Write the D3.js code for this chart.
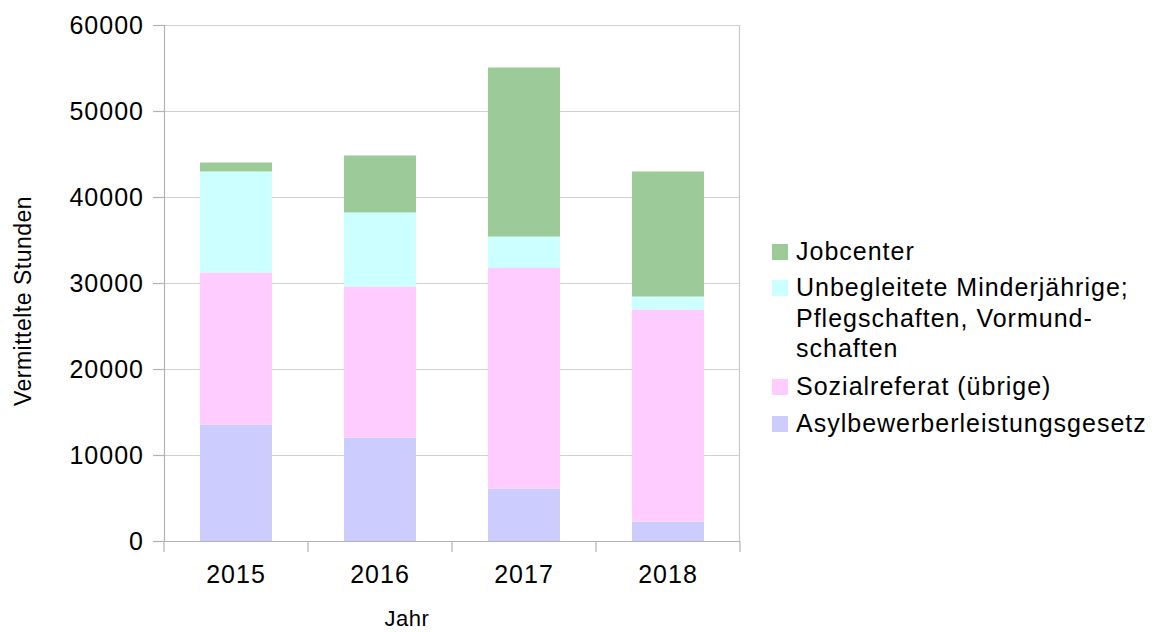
<!DOCTYPE html>
<html>
<head>
<meta charset="utf-8">
<script src="https://cdn.jsdelivr.net/npm/d3@7"></script>
<style>
  body { margin: 0; background: #fff; }
  text { font-family: "Liberation Sans", Arial, sans-serif; fill: #000; letter-spacing: 1px; }
</style>
</head>
<body>
<div id="chart"></div>
<script>
'use strict';

// data
var years       = ['2015', '2016', '2017', '2018'];
var seriesNames = ['Asylbewerberleistungsgesetz', 'Sozialreferat (übrige)',
                   'Unbegleitete Minderjährige; Pflegschaften, Vormundschaften', 'Jobcenter'];
var asyl        = [13550, 12030, 6100, 2270];
var sozial      = [17670, 17560, 25700, 24650];
var unbegleitet = [11750, 8610, 3600, 1510];
var jobcenter   = [1040, 6630, 19660, 14540];
var yTicks      = [0, 10000, 20000, 30000, 40000, 50000, 60000];
var legendLines = [['Jobcenter'],
                   ['Unbegleitete Minderjährige;', 'Pflegschaften, Vormund-', 'schaften'],
                   ['Sozialreferat (übrige)'],
                   ['Asylbewerberleistungsgesetz']];

var colors = ['#ccccff', '#ffccff', '#ccffff', '#9ccb99'];

var svgWidth = 1163, svgHeight = 632;
var margin = {left: 164, top: 25, right: 423, bottom: 91};
var width  = svgWidth - margin.left - margin.right,
    height = svgHeight - margin.top - margin.bottom;

var svg = d3.select('#chart').append('svg')
    .attr('width', svgWidth)
    .attr('height', svgHeight);

var table = years.map(function(y, i) {
    var row = {year: y};
    row[seriesNames[0]] = asyl[i];
    row[seriesNames[1]] = sozial[i];
    row[seriesNames[2]] = unbegleitet[i];
    row[seriesNames[3]] = jobcenter[i];
    return row;
});
var stacked = d3.stack().keys(seriesNames)(table);

var x = d3.scaleBand().domain(years).range([0, width]).paddingInner(0.5).paddingOuter(0.25);
var y = d3.scaleLinear().domain([0, 60000]).range([height, 0]);

var g = svg.append('g').attr('transform', 'translate(' + [margin.left, margin.top] + ')');

// grid lines
g.selectAll('.grid').data(yTicks).enter().append('line')
    .attr('x1', 0).attr('x2', width)
    .attr('y1', function(d) { return y(d) + 0.5; })
    .attr('y2', function(d) { return y(d) + 0.5; })
    .style('stroke', '#d0d0d0').style('stroke-width', 1.2);
g.append('line')
    .attr('x1', width - 0.5).attr('x2', width - 0.5)
    .attr('y1', 0).attr('y2', height)
    .style('stroke', '#c8c8c8').style('stroke-width', 1.2);

// bars
g.selectAll('.layer').data(stacked).enter().append('g')
    .style('fill', function(d, i) { return colors[i]; })
    .selectAll('rect').data(function(d) { return d; }).enter().append('rect')
    .attr('x', function(d) { return x(d.data.year); })
    .attr('width', x.bandwidth())
    .attr('y', function(d) { return y(d[1]); })
    .attr('height', function(d) { return y(d[0]) - y(d[1]); });

// y axis
var yAxis = g.append('g')
    .call(d3.axisLeft(y).tickValues(yTicks).tickSize(11).tickPadding(9).tickFormat(d3.format('d')));
// x axis with ticks on the band edges
var edges = d3.range(years.length + 1).map(function(i) { return i * width / years.length; });
var xAxis = g.append('g').attr('transform', 'translate(0,' + height + ')');
xAxis.append('line').attr('x1', 0).attr('x2', width).attr('y1', 0.5).attr('y2', 0.5);
xAxis.selectAll('.tk').data(edges).enter().append('line')
    .attr('x1', function(d) { return d; }).attr('x2', function(d) { return d; })
    .attr('y1', 0).attr('y2', 11);
xAxis.selectAll('.lbl').data(years).enter().append('text')
    .attr('x', function(d) { return x(d) + x.bandwidth() / 2; })
    .attr('y', 42)
    .attr('text-anchor', 'middle')
    .text(function(d) { return d; });

[yAxis, xAxis].forEach(function(a) {
    a.selectAll('line, path').style('stroke', '#b3b3b3').style('stroke-width', 1.2);
    a.selectAll('text').style('font-size', '25px').style('fill', '#000')
        .style('font-family', '"Liberation Sans", Arial, sans-serif');
});
yAxis.select('.domain').attr('d', 'M0.5,' + height + 'V0');

// axis titles
svg.append('text')
    .attr('transform', 'translate(31,301) rotate(-90)')
    .attr('text-anchor', 'middle')
    .style('font-size', '23px')
    .style('letter-spacing', '0.5px')
    .text('Vermittelte Stunden');
svg.append('text')
    .attr('x', 407).attr('y', 626)
    .attr('text-anchor', 'middle')
    .style('font-size', '22px')
    .style('letter-spacing', '0.5px')
    .text('Jahr');

// legend
var legendY = [260, 296, 395, 432];
var legend = svg.append('g');
legendLines.forEach(function(lines, i) {
    var colorIdx = seriesNames.length - 1 - i;
    legend.append('rect')
        .attr('x', 772).attr('y', legendY[i] - 16)
        .attr('width', 16).attr('height', 16)
        .style('fill', colors[colorIdx]);
    var t = legend.append('text').attr('x', 796).attr('y', legendY[i]).style('font-size', '25px');
    lines.forEach(function(l, j) {
        t.append('tspan').attr('x', 796).attr('y', legendY[i] + j * 30.5).text(l);
    });
});
</script>
</body>
</html>
